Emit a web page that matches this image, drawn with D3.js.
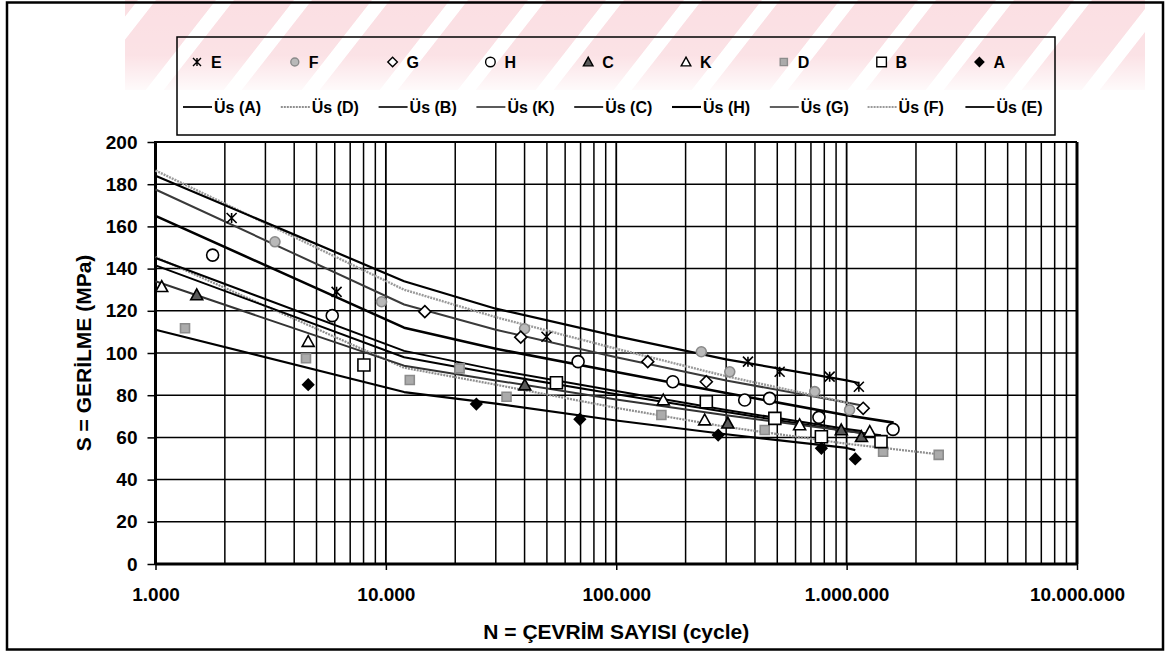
<!DOCTYPE html>
<html><head><meta charset="utf-8">
<script src="https://cdn.jsdelivr.net/npm/d3@7"></script>
<style>
body{margin:0;background:#fff}
svg{display:block}
text{font-family:"Liberation Sans",Arial,sans-serif;font-weight:bold;fill:#000}
</style>
</head><body>
<svg id="chart" width="1169" height="652"></svg>
<script>
// ---------- DATA ----------
const pointSeries = ["E","F","G","H","C","K","D","B","A"];
const trendSeries = ["A","D","B","K","C","H","G","F","E"];

const pointsE = [[2140,164],[6110,129],[49800,107.7],[373000,95.9],[512000,91.1],[844000,88.8],[1130000,84]];
const pointsF = [[3300,152.7],[9580,124.3],[40000,111.5],[234000,100.6],[311000,91.1],[727000,81.7],[1030000,73]];
const pointsG = [[14760,119.6],[38500,107.5],[137000,95.9],[246000,86.4],[1180000,73.8]];
const pointsH = [[1770,146.4],[5850,117.7],[68300,95.9],[176000,86.4],[361000,77.7],[463000,78.5],[758000,69.5],[1590000,63.8]];
const pointsC = [[1510,127.5],[40100,84.8],[305000,66.7],[948000,63.5],[1160000,60.3]];
const pointsK = [[1064,131.4],[4600,105.4],[160000,77.7],[242000,68.2],[625000,65.9],[1260000,62.7]];
const pointsD = [[1343,111.7],[4500,97.5],[12700,87.2],[20900,92.7],[33400,79.3],[157000,70.6],[441000,63.5],[1440000,53.2],[2510000,51.7]];
const pointsB = [[8030,94.3],[55000,85.9],[246000,76.9],[488000,69],[777000,60.3],[1410000,58]];
const pointsA = [[4600,85],[24700,75.8],[69500,68.6],[277000,61.1],[777000,54.8],[1090000,49.8]];

// trend lines ("Üs"): [N, S]
const trendE = [[1000,184],[12000,134],[30000,121],[100000,108],[300000,97],[1000000,87],[1130000,85.8]];
const trendF = [[1000,186.5],[12000,130],[30000,117],[100000,102],[300000,89],[1000000,76.5],[1030000,76]];
const trendG = [[1000,177.5],[12000,123],[30000,111],[100000,98],[300000,87],[1000000,76.5],[1180000,75]];
const trendH = [[1000,165],[12000,112],[30000,102],[100000,91],[300000,81],[1000000,70.5],[1600000,67]];
const trendC = [[1000,145],[12000,101],[30000,92],[100000,82],[300000,73],[1000000,64],[1160000,63]];
const trendB = [[1000,141.5],[12000,98],[30000,90],[100000,80.5],[300000,72],[1000000,63],[1410000,61]];
const trendK = [[1000,134],[12000,94],[30000,87],[100000,78],[300000,70.5],[1000000,63],[1260000,61.5]];
const trendD = [[1000,145.5],[12000,93],[30000,85],[100000,74],[300000,65],[1000000,57],[2510000,52]];
const trendA = [[1000,111],[12000,81.5],[30000,76],[100000,68],[300000,61.5],[1000000,55],[1090000,54]];

const yTickValues = [0,20,40,60,80,100,120,140,160,180,200];
const xTickValues = [1000,10000,100000,1000000,10000000];
const xTickLabels = ["1.000","10.000","100.000","1.000.000","10.000.000"];
const yTitle = "S = GERİLME (MPa)";
const xTitle = "N = ÇEVRİM SAYISI (cycle)";

const points = {E:pointsE,F:pointsF,G:pointsG,H:pointsH,C:pointsC,K:pointsK,D:pointsD,B:pointsB,A:pointsA};
const trends = {E:trendE,F:trendF,G:trendG,H:trendH,C:trendC,K:trendK,D:trendD,B:trendB,A:trendA};

// ---------- STYLES ----------
const markerStyle = {
  E:{type:"star",  fill:"none",   stroke:"#000", size:10},
  F:{type:"circle",fill:"#b9b9b9",stroke:"#8a8a8a", size:10},
  G:{type:"diamond",fill:"#fff",  stroke:"#000", size:12},
  H:{type:"circle",fill:"#fff",   stroke:"#000", size:12},
  C:{type:"triangle",fill:"#5a5a5a",stroke:"#000", size:12},
  K:{type:"triangle",fill:"#fff", stroke:"#000", size:12},
  D:{type:"square",fill:"#ababab",stroke:"#8c8c8c", size:9},
  B:{type:"square",fill:"#fff",   stroke:"#000", size:12},
  A:{type:"diamond",fill:"#000",  stroke:"#000", size:11}
};
const lineStyle = {
  A:{stroke:"#000",width:2.2},
  D:{stroke:"#8f8f8f",width:2.2,dash:"2,1"},
  B:{stroke:"#000",width:2},
  K:{stroke:"#333",width:2},
  C:{stroke:"#000",width:2},
  H:{stroke:"#000",width:2.6},
  G:{stroke:"#3a3a3a",width:2},
  F:{stroke:"#9a9a9a",width:2.4,dash:"2,1"},
  E:{stroke:"#000",width:2.2}
};

// ---------- LAYOUT ----------
const svg = d3.select("#chart");
const plot = {left:155.5, right:1077, top:142, bottom:564};

const x = d3.scaleLog().domain([1000,10000000]).range([plot.left, plot.right]);
const y = d3.scaleLinear().domain([0,200]).range([plot.bottom, plot.top]);

// watermark (scan artefact at top)
const defs = svg.append("defs");
const pat = defs.append("pattern").attr("id","wm").attr("patternUnits","userSpaceOnUse")
  .attr("width",78).attr("height",100).attr("patternTransform","skewX(-38)");
pat.append("rect").attr("width",60).attr("height",100).attr("fill","#fbdfe3");
const grad = defs.append("linearGradient").attr("id","fade").attr("x1",0).attr("y1",0).attr("x2",0).attr("y2",1);
grad.append("stop").attr("offset","0%").attr("stop-color","#fff").attr("stop-opacity",0);
grad.append("stop").attr("offset","60%").attr("stop-color","#fff").attr("stop-opacity",0.1);
grad.append("stop").attr("offset","100%").attr("stop-color","#fff").attr("stop-opacity",0.9);
svg.append("rect").attr("x",125).attr("y",0).attr("width",1020).attr("height",90).attr("fill","url(#wm)");
svg.append("rect").attr("x",125).attr("y",0).attr("width",1020).attr("height",92).attr("fill","url(#fade)");

// outer border
svg.append("rect").attr("x",7).attr("y",2.5).attr("width",1156).attr("height",647)
  .attr("fill","none").attr("stroke","#000").attr("stroke-width",2.5);

// grid
const g = svg.append("g");
const vTicks = x.ticks().filter(v => v > 1000 && v < 10000000);
g.selectAll("line.v").data(vTicks).join("line")
  .attr("x1",d=>x(d)).attr("x2",d=>x(d)).attr("y1",plot.top).attr("y2",plot.bottom)
  .attr("stroke","#000").attr("stroke-width",d => xTickValues.includes(d) ? 1.8 : 1.5);
g.selectAll("line.h").data(yTickValues.filter(v=>v>0 && v<200)).join("line")
  .attr("x1",plot.left).attr("x2",plot.right).attr("y1",d=>y(d)).attr("y2",d=>y(d))
  .attr("stroke","#000").attr("stroke-width",1.5);

// frame
svg.append("line").attr("x1",plot.left).attr("x2",plot.right).attr("y1",plot.top).attr("y2",plot.top).attr("stroke","#000").attr("stroke-width",2);
svg.append("line").attr("x1",plot.right).attr("x2",plot.right).attr("y1",plot.top).attr("y2",plot.bottom).attr("stroke","#000").attr("stroke-width",3);
svg.append("line").attr("x1",plot.left).attr("x2",plot.left).attr("y1",plot.top-1).attr("y2",plot.bottom+1).attr("stroke","#000").attr("stroke-width",3);
svg.append("line").attr("x1",plot.left).attr("x2",plot.right).attr("y1",plot.bottom).attr("y2",plot.bottom).attr("stroke","#000").attr("stroke-width",3);

// axes
const yAxis = d3.axisLeft(y).tickValues(yTickValues).tickSize(8).tickPadding(10).tickFormat(d3.format("d"));
const ya = svg.append("g").attr("transform",`translate(${plot.left},0)`).call(yAxis);
ya.select(".domain").remove();
ya.selectAll(".tick line").attr("stroke","#000").attr("stroke-width",1.5);
ya.selectAll(".tick text").style("font-size","19px").style("font-family","'Liberation Sans',Arial,sans-serif").style("font-weight","bold").attr("fill","#000");

const xAxis = d3.axisBottom(x).tickValues(xTickValues).tickSize(6).tickPadding(18)
  .tickFormat((d,i)=>xTickLabels[i]);
const xa = svg.append("g").attr("transform",`translate(0,${plot.bottom})`).call(xAxis);
xa.select(".domain").remove();
xa.selectAll(".tick line").attr("stroke","#000").attr("stroke-width",1.5);
xa.selectAll(".tick text").style("font-size","19px").style("font-family","'Liberation Sans',Arial,sans-serif").style("font-weight","bold").attr("fill","#000");

// titles
svg.append("text").attr("x",(plot.left+plot.right)/2).attr("y",639).attr("text-anchor","middle")
  .style("font-size","21px").text(xTitle);
svg.append("text").attr("transform",`translate(91,${(plot.top+plot.bottom)/2}) rotate(-90)`).attr("text-anchor","middle")
  .style("font-size","21px").text(yTitle);

// marker path generator
function markerPath(type,size){
  const s=size/2;
  if(type==="circle") return d3.symbol(d3.symbolCircle, Math.PI*s*s)();
  if(type==="square") return d3.symbol(d3.symbolSquare, size*size)();
  if(type==="diamond") return `M0,${-s}L${s},0L0,${s}L${-s},0Z`;
  if(type==="triangle") return `M0,${-s}L${s},${s*0.8}L${-s},${s*0.8}Z`;
  if(type==="star") return `M${-s},${-s}L${s},${s}M${-s},${s}L${s},${-s}M0,${-s}L0,${s}`;
}

// trend lines
const line = d3.line().x(d=>x(d[0])).y(d=>y(d[1]));
const lg = svg.append("g");
trendSeries.forEach(k=>{
  const st=lineStyle[k];
  lg.append("path").datum(trends[k]).attr("d",line).attr("fill","none")
    .attr("stroke",st.stroke).attr("stroke-width",st.width)
    .attr("stroke-dasharray",st.dash||null).attr("stroke-linejoin","round");
});

// points
const pg = svg.append("g");
pointSeries.forEach(k=>{
  const ms=markerStyle[k];
  pg.selectAll(null).data(points[k]).join("path")
    .attr("transform",d=>`translate(${x(d[0])},${y(d[1])})`)
    .attr("d",markerPath(ms.type,ms.size))
    .attr("fill",ms.fill).attr("stroke",ms.stroke).attr("stroke-width",1.6);
});

// legend
const leg = svg.append("g");
leg.append("rect").attr("x",177).attr("y",37).attr("width",878).attr("height",98)
  .attr("fill","none").attr("stroke","#000").attr("stroke-width",1.5);
const step = 97.8;
pointSeries.forEach((k,i)=>{
  const mx = 197 + i*step, my = 62;
  const ms = markerStyle[k];
  leg.append("path").attr("transform",`translate(${mx},${my})`)
    .attr("d",markerPath(ms.type,ms.size*0.8))
    .attr("fill",ms.fill).attr("stroke",ms.stroke).attr("stroke-width",1.4);
  leg.append("text").attr("x",mx+14).attr("y",my+6).style("font-size","16px").text(k);
});
trendSeries.forEach((k,i)=>{
  const lx = 183 + i*step, ly = 107;
  const st=lineStyle[k];
  leg.append("line").attr("x1",lx).attr("x2",lx+29).attr("y1",ly).attr("y2",ly)
    .attr("stroke",st.stroke).attr("stroke-width",st.width*0.8).attr("stroke-dasharray",st.dash||null);
  leg.append("text").attr("x",lx+31).attr("y",ly+6).style("font-size","16px").text(`Üs (${k})`);
});
</script>
</body></html>
